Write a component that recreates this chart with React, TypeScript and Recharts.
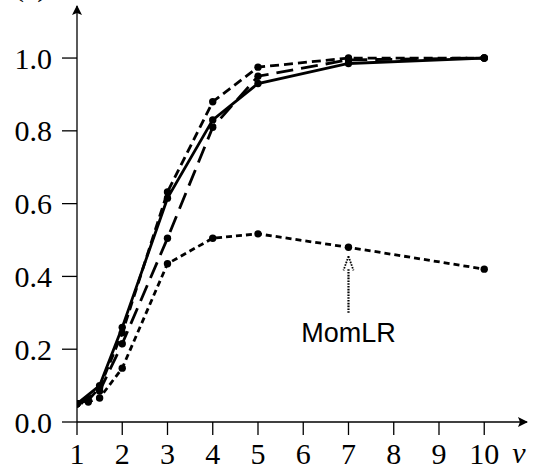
import { LineChart, Line, XAxis, YAxis, ReferenceLine } from 'recharts'

const X_TICKS = [1, 2, 3, 4, 5, 6, 7, 8, 9, 10]
const Y_TICKS = [0, 0.2, 0.4, 0.6, 0.8, 1.0]

// solid curve
const solidX = [1, 1.5, 2, 3, 4, 5, 7, 10]
const solidY = [0.05, 0.1, 0.26, 0.615, 0.83, 0.93, 0.985, 1.0]

// medium dashed curve
const dashX = [1, 1.25, 1.5, 2, 3, 4, 5, 7, 10]
const dashY = [0.05, 0.06, 0.095, 0.245, 0.632, 0.88, 0.975, 1.0, 1.0]

// long dashed curve
const longX = [1, 1.5, 2, 3, 4, 5, 7, 10]
const longY = [0.05, 0.085, 0.215, 0.505, 0.81, 0.95, 0.995, 1.0]

// MomLR (short dashes)
const momX = [1, 1.25, 1.5, 2, 3, 4, 5, 7, 10]
const momY = [0.05, 0.055, 0.066, 0.148, 0.435, 0.505, 0.517, 0.48, 0.42]

const zip = (xs: number[], ys: number[]) => xs.map((x, i) => ({ x, y: ys[i] }))

const SERIES = [
  { key: 'solid', data: zip(solidX, solidY), dash: undefined },
  { key: 'dash', data: zip(dashX, dashY), dash: '9 5' },
  { key: 'long', data: zip(longX, longY), dash: '17 8' },
  { key: 'mom', data: zip(momX, momY), dash: '6 4' },
]

const SERIF = 'Liberation Serif'
const SANS = 'Liberation Sans'

const ArrowNote = (props: any) => {
  const { x1, y1, x2, y2 } = props
  const top = Math.min(y1, y2)
  const bottom = Math.max(y1, y2)
  return (
    <g>
      <line x1={x1} y1={bottom} x2={x2} y2={top + 12} stroke="#000" strokeWidth={2.2} strokeDasharray="1.6 1.2" />
      <path
        d={`M ${x1} ${top} L ${x1 - 5} ${top + 14} M ${x1} ${top} L ${x1 + 5} ${top + 14}`}
        stroke="#000"
        strokeWidth={1.8}
        strokeDasharray="1.6 1.2"
        fill="none"
      />
      <text x={x1} y={bottom + 29} textAnchor="middle" fontFamily={SANS} fontSize={27} fill="#000">
        MomLR
      </text>
    </g>
  )
}

const AxisName = (props: any) => {
  const { viewBox } = props
  return (
    <text
      x={viewBox.x + viewBox.width - 8}
      y={viewBox.y + 41}
      textAnchor="middle"
      fontFamily={SERIF}
      fontStyle="italic"
      fontSize={30}
      fill="#000"
    >
      v
    </text>
  )
}

const TICK_STYLE = { fill: '#000', fontSize: 30, fontFamily: SERIF }

export default function App() {
  return (
    <div style={{ position: 'absolute', top: 0, left: 0, width: 540, height: 474 }}>
      <svg width={0} height={0} style={{ position: 'absolute' }}>
        <defs>
          <marker
            id="axis-arrow"
            viewBox="0 0 10 10"
            refX="9"
            refY="5"
            markerWidth="10"
            markerHeight="10"
            markerUnits="userSpaceOnUse"
            orient="auto-start-reverse"
          >
            <path d="M 0 0 L 10 5 L 0 10 L 2 5 z" fill="#000" />
          </marker>
        </defs>
      </svg>
      {/* panel letter, mostly cropped off at the top as in the source figure */}
      <span
        style={{ position: 'absolute', left: 14, top: -31, fontFamily: SERIF, fontSize: 30, lineHeight: '34px' }}
      >
        (a)
      </span>
      <LineChart width={540} height={474} margin={{ top: 6, right: 13, bottom: 0, left: 0 }}>
        <XAxis
          dataKey="x"
          type="number"
          domain={[1, 10.945]}
          ticks={X_TICKS}
          allowDataOverflow
          height={52}
          tickSize={13}
          tickMargin={8}
          stroke="#000"
          axisLine={{ stroke: '#000', strokeWidth: 1.3, markerEnd: 'url(#axis-arrow)' }}
          tickLine={{ stroke: '#000', strokeWidth: 1.3 }}
          tick={TICK_STYLE}
          label={<AxisName />}
        />
        <YAxis
          dataKey="y"
          type="number"
          domain={[0, 1.143]}
          ticks={Y_TICKS}
          allowDataOverflow
          width={77}
          tickSize={15}
          tickMargin={10}
          tickFormatter={(v: number) => v.toFixed(1)}
          stroke="#000"
          axisLine={{ stroke: '#000', strokeWidth: 1.3, markerStart: 'url(#axis-arrow)' }}
          tickLine={{ stroke: '#000', strokeWidth: 1.3 }}
          tick={TICK_STYLE}
        />
        {SERIES.map((s) => (
          <Line
            key={s.key}
            data={s.data}
            dataKey="y"
            type="linear"
            stroke="#000"
            strokeWidth={2.8}
            strokeDasharray={s.dash}
            dot={{ r: 3.7, fill: '#000', stroke: '#000', strokeWidth: 0 }}
            activeDot={false}
            isAnimationActive={false}
          />
        ))}
        <ReferenceLine
          segment={[
            { x: 7, y: 0.3 },
            { x: 7, y: 0.455 },
          ]}
          shape={<ArrowNote />}
          ifOverflow="visible"
        />
      </LineChart>
    </div>
  )
}
